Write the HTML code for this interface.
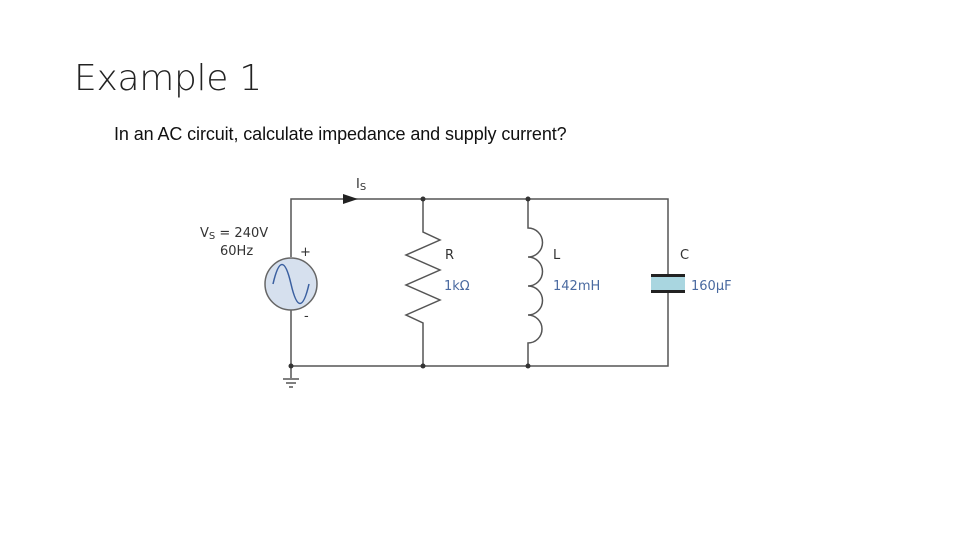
<!DOCTYPE html>
<html><head><style>
body{margin:0;width:960px;height:540px;background:#fff;overflow:hidden;position:relative;font-family:"Liberation Sans",sans-serif}
.t{position:absolute;left:74px;top:58px;font-size:36px;color:#222;font-family:"DejaVu Sans","Liberation Sans",sans-serif;font-weight:300;letter-spacing:-0.3px}
.s{position:absolute;left:114px;top:124px;font-size:18px;color:#111;letter-spacing:-0.1px}
</style></head><body>
<div class="t">Example 1</div>
<div class="s">In an AC circuit, calculate impedance and supply current?</div>
<svg width="960" height="540" style="position:absolute;left:0;top:0" font-family="DejaVu Sans, Liberation Sans, sans-serif">
<g stroke="#555" stroke-width="1.5" fill="none">
<path d="M291 257 V199 H668 V275 M668 292 V366 H291 V310"/>
<path d="M423 199 V232 L440 240 L406 255 L440 270 L406 285 L440 300 L406 315 L423 323 V366"/>
<path d="M528 199 V228 A14 14 0 0 1 528 257 A14 14 0 0 1 528 286 A14 14 0 0 1 528 315 A14 14 0 0 1 528 343 V366"/>
<path d="M291 366 V378 M283 379 H299 M286 383 H296 M289 387 H293"/>
</g>
<rect x="651" y="276" width="34" height="15" fill="#a9d6e0"/>
<rect x="651" y="274" width="34" height="3" fill="#222"/>
<rect x="651" y="290" width="34" height="3" fill="#222"/>
<polygon points="343,194 358,199 343,204" fill="#222"/>
<g fill="#333"><circle cx="423" cy="199" r="2.5"/><circle cx="528" cy="199" r="2.5"/><circle cx="423" cy="366" r="2.5"/><circle cx="528" cy="366" r="2.5"/><circle cx="291" cy="366" r="2.5"/></g>
<circle cx="291" cy="284" r="26" fill="#d6e0ee" stroke="#666" stroke-width="1.5"/>
<path d="M273 284 C279 258 285 258 291 284 C297 310 303 310 309 284" stroke="#3a5fa0" stroke-width="1.5" fill="none"/>
<g font-size="13" fill="#333">
<text x="356" y="188">I<tspan font-size="10" dy="2">S</tspan></text>
<text x="200" y="237">V<tspan font-size="10" dy="2">S</tspan><tspan dy="-2"> = 240V</tspan></text>
<text x="220" y="255">60Hz</text>
<text x="300" y="256">+</text>
<text x="304" y="320">-</text>
<text x="445" y="259">R</text><text x="553" y="259">L</text><text x="680" y="259">C</text>
</g>
<g font-size="13" fill="#4a6aa0">
<text x="444" y="290">1kΩ</text><text x="553" y="290">142mH</text><text x="691" y="290">160μF</text>
</g>
</svg>
</body></html>
